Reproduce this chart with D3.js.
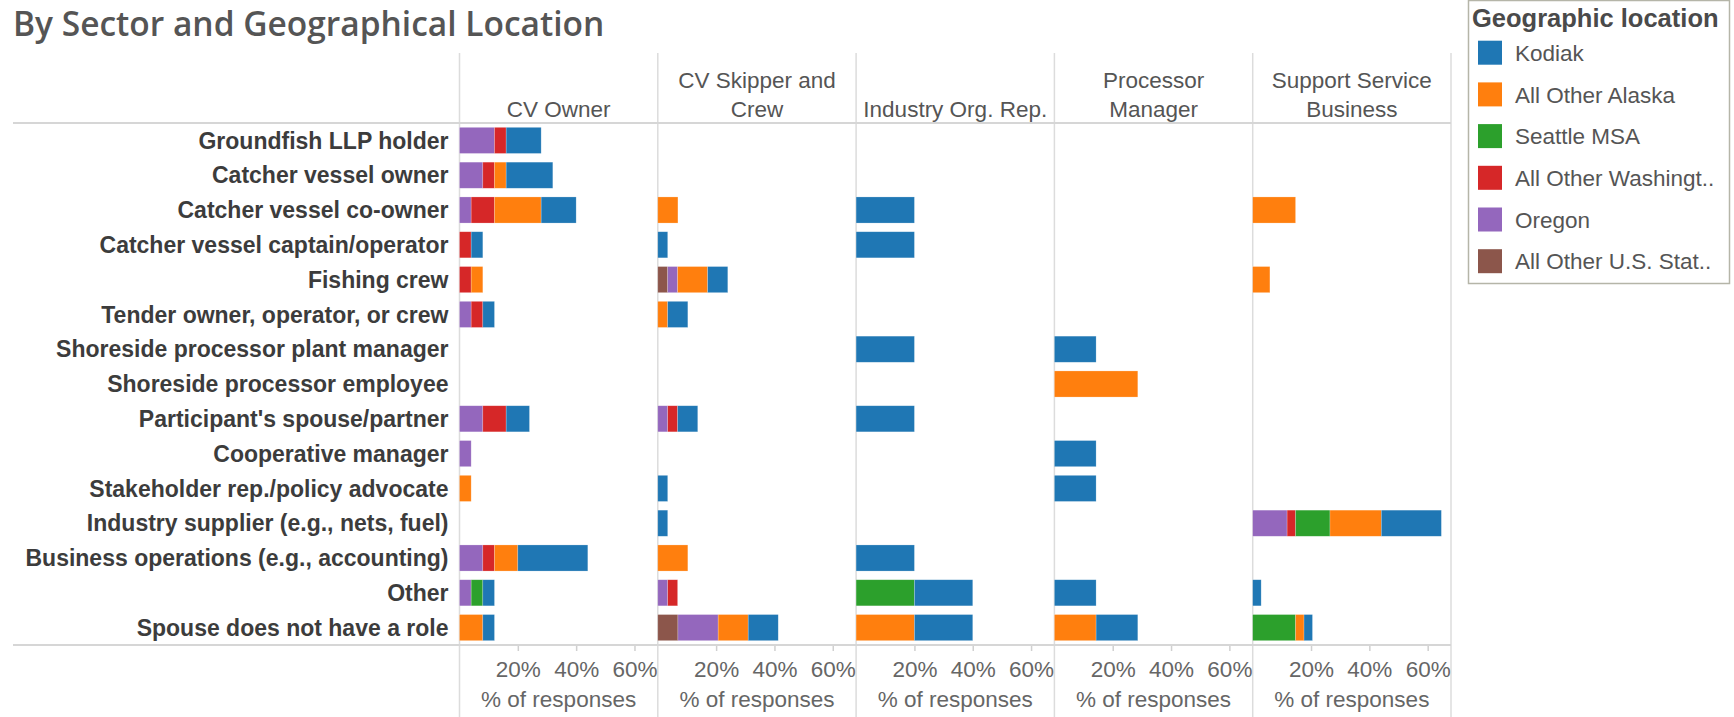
<!DOCTYPE html>
<html>
<head>
<meta charset="utf-8">
<script src="https://cdn.jsdelivr.net/npm/d3@7"></script>
<style>
  html, body { margin: 0; padding: 0; background: #fff; }
  svg { display: block; }
</style>
</head>
<body>
<svg id="chart" width="1734" height="717"></svg>
<script>
// ---------------- DATA ----------------
const roles = [
  "Groundfish LLP holder",
  "Catcher vessel owner",
  "Catcher vessel co-owner",
  "Catcher vessel captain/operator",
  "Fishing crew",
  "Tender owner, operator, or crew",
  "Shoreside processor plant manager",
  "Shoreside processor employee",
  "Participant's spouse/partner",
  "Cooperative manager",
  "Stakeholder rep./policy advocate",
  "Industry supplier (e.g., nets, fuel)",
  "Business operations (e.g., accounting)",
  "Other",
  "Spouse does not have a role"
];

const sectorHeaders = [
  ["CV Owner"],
  ["CV Skipper and", "Crew"],
  ["Industry Org. Rep."],
  ["Processor", "Manager"],
  ["Support Service", "Business"]
];

const locations = ["Kodiak", "All Other Alaska", "Seattle MSA", "All Other Washington", "Oregon", "All Other U.S. States"];
const legendLabels = ["Kodiak", "All Other Alaska", "Seattle MSA", "All Other Washingt..", "Oregon", "All Other U.S. Stat.."];
const locationColors = ["#1f77b4", "#ff7f0e", "#2ca02c", "#d62728", "#9467bd", "#8c564b"];

// values in % of responses, columns follow `locations`
const cvOwner = [
  [12, 0, 0, 4, 12, 0],
  [16, 4, 0, 4, 8, 0],
  [12, 16, 0, 8, 4, 0],
  [4, 0, 0, 4, 0, 0],
  [0, 4, 0, 4, 0, 0],
  [4, 0, 0, 4, 4, 0],
  [0, 0, 0, 0, 0, 0],
  [0, 0, 0, 0, 0, 0],
  [8, 0, 0, 8, 8, 0],
  [0, 0, 0, 0, 4, 0],
  [0, 4, 0, 0, 0, 0],
  [0, 0, 0, 0, 0, 0],
  [24, 8, 0, 4, 8, 0],
  [4, 0, 4, 0, 4, 0],
  [4, 8, 0, 0, 0, 0]
];
const cvSkipperCrew = [
  [0, 0, 0, 0, 0, 0],
  [0, 0, 0, 0, 0, 0],
  [0, 6.9, 0, 0, 0, 0],
  [3.4, 0, 0, 0, 0, 0],
  [6.9, 10.3, 0, 0, 3.4, 3.4],
  [6.9, 3.4, 0, 0, 0, 0],
  [0, 0, 0, 0, 0, 0],
  [0, 0, 0, 0, 0, 0],
  [6.9, 0, 0, 3.4, 3.4, 0],
  [0, 0, 0, 0, 0, 0],
  [3.4, 0, 0, 0, 0, 0],
  [3.4, 0, 0, 0, 0, 0],
  [0, 10.3, 0, 0, 0, 0],
  [0, 0, 0, 3.4, 3.4, 0],
  [10.3, 10.3, 0, 0, 13.8, 6.9]
];
const industryOrgRep = [
  [0, 0, 0, 0, 0, 0],
  [0, 0, 0, 0, 0, 0],
  [20, 0, 0, 0, 0, 0],
  [20, 0, 0, 0, 0, 0],
  [0, 0, 0, 0, 0, 0],
  [0, 0, 0, 0, 0, 0],
  [20, 0, 0, 0, 0, 0],
  [0, 0, 0, 0, 0, 0],
  [20, 0, 0, 0, 0, 0],
  [0, 0, 0, 0, 0, 0],
  [0, 0, 0, 0, 0, 0],
  [0, 0, 0, 0, 0, 0],
  [20, 0, 0, 0, 0, 0],
  [20, 0, 20, 0, 0, 0],
  [20, 20, 0, 0, 0, 0]
];
const processorManager = [
  [0, 0, 0, 0, 0, 0],
  [0, 0, 0, 0, 0, 0],
  [0, 0, 0, 0, 0, 0],
  [0, 0, 0, 0, 0, 0],
  [0, 0, 0, 0, 0, 0],
  [0, 0, 0, 0, 0, 0],
  [14.3, 0, 0, 0, 0, 0],
  [0, 28.6, 0, 0, 0, 0],
  [0, 0, 0, 0, 0, 0],
  [14.3, 0, 0, 0, 0, 0],
  [14.3, 0, 0, 0, 0, 0],
  [0, 0, 0, 0, 0, 0],
  [0, 0, 0, 0, 0, 0],
  [14.3, 0, 0, 0, 0, 0],
  [14.3, 14.3, 0, 0, 0, 0]
];
const supportServiceBusiness = [
  [0, 0, 0, 0, 0, 0],
  [0, 0, 0, 0, 0, 0],
  [0, 14.7, 0, 0, 0, 0],
  [0, 0, 0, 0, 0, 0],
  [0, 5.9, 0, 0, 0, 0],
  [0, 0, 0, 0, 0, 0],
  [0, 0, 0, 0, 0, 0],
  [0, 0, 0, 0, 0, 0],
  [0, 0, 0, 0, 0, 0],
  [0, 0, 0, 0, 0, 0],
  [0, 0, 0, 0, 0, 0],
  [20.6, 17.6, 11.8, 2.9, 11.8, 0],
  [0, 0, 0, 0, 0, 0],
  [2.9, 0, 0, 0, 0, 0],
  [2.9, 2.9, 14.7, 0, 0, 0]
];

const tickValues = [20, 40, 60];
const tickLabels = ["20%", "40%", "60%"];
const axisTitle = "% of responses";
const chartTitle = "By Sector and Geographical Location";
const legendTitle = "Geographic location";

// ---------------- LAYOUT ----------------
const sectorData = [cvOwner, cvSkipperCrew, industryOrgRep, processorManager, supportServiceBusiness];
const W = 1734, H = 717;
const plotLeft = 459.5, panelW = 198.3;
const topY = 123, bottomY = 645, headerTop = 53;
const lineLeft = 13;
const nPanels = sectorHeaders.length;
const plotRight = plotLeft + panelW * nPanels;

const svg = d3.select("#chart");
const FONT = "'Liberation Sans', Arial, sans-serif";

// scales
const y = d3.scaleBand().domain(roles).range([topY, bottomY]).paddingInner(0.25).paddingOuter(0.125);
const x = d3.scaleLinear().domain([0, 68]).range([0, panelW]);
const color = d3.scaleOrdinal().domain(locations).range(locationColors);

// stack order left->right: All Other U.S., Oregon, Washington, Seattle, Alaska, Kodiak
const stackKeys = locations.slice().reverse();
const stack = d3.stack().keys(stackKeys);

// title
svg.append("text")
  .attr("x", 13).attr("y", 36)
  .attr("font-family", "'Open Sans', 'DejaVu Sans', sans-serif")
  .attr("font-weight", 600)
  .attr("font-size", 33.5)
  .attr("fill", "#555")
  .text(chartTitle);

// grid lines
const grid = svg.append("g");
d3.range(nPanels + 1).forEach(i => {
  grid.append("line")
    .attr("x1", plotLeft + i * panelW).attr("x2", plotLeft + i * panelW)
    .attr("y1", headerTop).attr("y2", H)
    .attr("stroke", "#dcdcdc").attr("stroke-width", 1.5);
});
grid.append("line").attr("x1", lineLeft).attr("x2", plotRight)
  .attr("y1", topY).attr("y2", topY).attr("stroke", "#d6d6d6").attr("stroke-width", 2);

// row labels
svg.append("g").selectAll("text").data(roles).join("text")
  .attr("x", plotLeft - 11)
  .attr("y", d => y(d) + y.bandwidth() / 2)
  .attr("dy", "0.36em")
  .attr("text-anchor", "end")
  .attr("font-family", FONT)
  .attr("font-weight", "bold")
  .attr("font-size", 23)
  .attr("fill", "#3c3c3c")
  .text(d => d);

// panels
sectorData.forEach((rows, p) => {
  const x0 = plotLeft + p * panelW;
  const g = svg.append("g").attr("transform", `translate(${x0},0)`);

  // header
  const hdr = sectorHeaders[p];
  const cx = panelW / 2;
  hdr.forEach((line, li) => {
    g.append("text")
      .attr("x", cx)
      .attr("y", 117 - (hdr.length - 1 - li) * 29)
      .attr("text-anchor", "middle")
      .attr("font-family", FONT)
      .attr("font-size", 22.5)
      .attr("fill", "#555")
      .text(line);
  });

  // data
  const table = rows.map((r, i) => {
    const o = { role: roles[i] };
    locations.forEach((loc, j) => { o[loc] = r[j]; });
    return o;
  });
  const series = stack(table);
  g.append("g").selectAll("g").data(series).join("g")
    .attr("fill", d => color(d.key))
    .selectAll("rect")
    .data(d => d.filter(s => s[1] - s[0] > 0))
    .join("rect")
    .attr("x", d => x(d[0]))
    .attr("width", d => x(d[1]) - x(d[0]))
    .attr("y", d => y(d.data.role))
    .attr("height", y.bandwidth())
    .attr("stroke", "rgba(255,255,255,0.35)")
    .attr("stroke-width", 0.6);

  // axis
  const axis = d3.axisBottom(x).tickValues(tickValues).tickFormat((d, i) => tickLabels[i]).tickSize(6).tickPadding(8);
  const ag = g.append("g").attr("transform", `translate(0,${bottomY})`).call(axis);
  ag.select(".domain").remove();
  ag.selectAll(".tick line").attr("stroke", "#d0d0d0").attr("stroke-width", 1.5);
  ag.selectAll(".tick text")
    .attr("font-family", FONT).attr("font-size", 22.5).attr("fill", "#666")
    .attr("y", 32).attr("dy", "0");

  g.append("text")
    .attr("x", cx).attr("y", 707)
    .attr("text-anchor", "middle")
    .attr("font-family", FONT)
    .attr("font-size", 22.5)
    .attr("fill", "#666")
    .text(axisTitle);
});

// bottom axis line
svg.append("line").attr("x1", lineLeft).attr("x2", plotRight)
  .attr("y1", bottomY).attr("y2", bottomY).attr("stroke", "#d6d6d6").attr("stroke-width", 2);

// legend
const lg = svg.append("g");
lg.append("rect")
  .attr("x", 1468.5).attr("y", 0.5).attr("width", 261).attr("height", 283)
  .attr("fill", "#fff").attr("stroke", "#b5b5a8").attr("stroke-width", 1.5);
lg.append("text")
  .attr("x", 1472).attr("y", 27)
  .attr("font-family", FONT).attr("font-weight", "bold").attr("font-size", 25.5)
  .attr("fill", "#4a4a4a")
  .text(legendTitle);
const items = lg.selectAll("g.item").data(locations).join("g")
  .attr("class", "item")
  .attr("transform", (d, i) => `translate(1478,${52.7 + i * 41.7})`);
items.append("rect")
  .attr("x", 0).attr("y", -12).attr("width", 24).attr("height", 24)
  .attr("fill", d => color(d));
items.append("text")
  .attr("x", 37).attr("y", 0).attr("dy", "0.36em")
  .attr("font-family", FONT).attr("font-size", 22.5).attr("fill", "#555")
  .text((d, i) => legendLabels[i]);
</script>
</body>
</html>
